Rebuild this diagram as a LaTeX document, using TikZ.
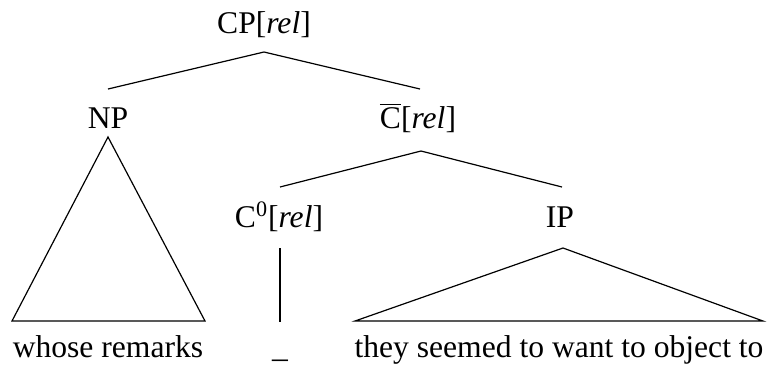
\documentclass[tikz,border=0pt]{standalone}
\usepackage{fontspec}
\setmainfont{Liberation Serif}
\begin{document}
\begin{tikzpicture}[x=0.5pt,y=-0.5pt,
  lbl/.style={anchor=base,inner sep=0pt,font=\fontsize{15.8}{19}\selectfont},
  edge/.style={line width=0.6pt,line join=miter}]
\useasboundingbox (0,0) rectangle (770,366);
% labels
\node[lbl] (cp) at (264,33) {CP[\textit{rel}]};
\node[lbl] (np) at (108,128) {NP};
\node[lbl] (cbar) at (418,128) {$\overline{\mbox{C}}$[\textit{rel}]};
\node[lbl] (c0) at (279,227) {C\textsuperscript{0}[\textit{rel}]};
\node[lbl] (ip) at (560,227) {IP};
\node[lbl] (w1) at (108,357) {whose remarks};
\node[lbl] (w2) at (280,357) {\_};
\node[lbl] (w3) at (559,357) {they seemed to want to object to};
% attachment points
\coordinate (cp-b) at (264,52);
\coordinate (np-t) at (108,89);
\coordinate (cbar-t) at (420,89);
\coordinate (cbar-b) at (421,151);
\coordinate (c0-t) at (280,187);
\coordinate (ip-t) at (562,187);
\coordinate (np-b) at (108,137);
\coordinate (w1-l) at (12,321);
\coordinate (w1-r) at (205,321);
\coordinate (c0-b) at (280,248);
\coordinate (w2-t) at (280,322);
\coordinate (ip-b) at (563,248);
\coordinate (w3-l) at (355,321);
\coordinate (w3-r) at (763,321);
% branches
\draw[edge] (np-t) -- (cp-b) -- (cbar-t);
\draw[edge] (c0-t) -- (cbar-b) -- (ip-t);
\draw[edge] (np-b) -- (w1-l) -- (w1-r) -- cycle;
\draw[edge] (c0-b) -- (w2-t);
\draw[edge] (ip-b) -- (w3-l) -- (w3-r) -- cycle;
\end{tikzpicture}
\end{document}
